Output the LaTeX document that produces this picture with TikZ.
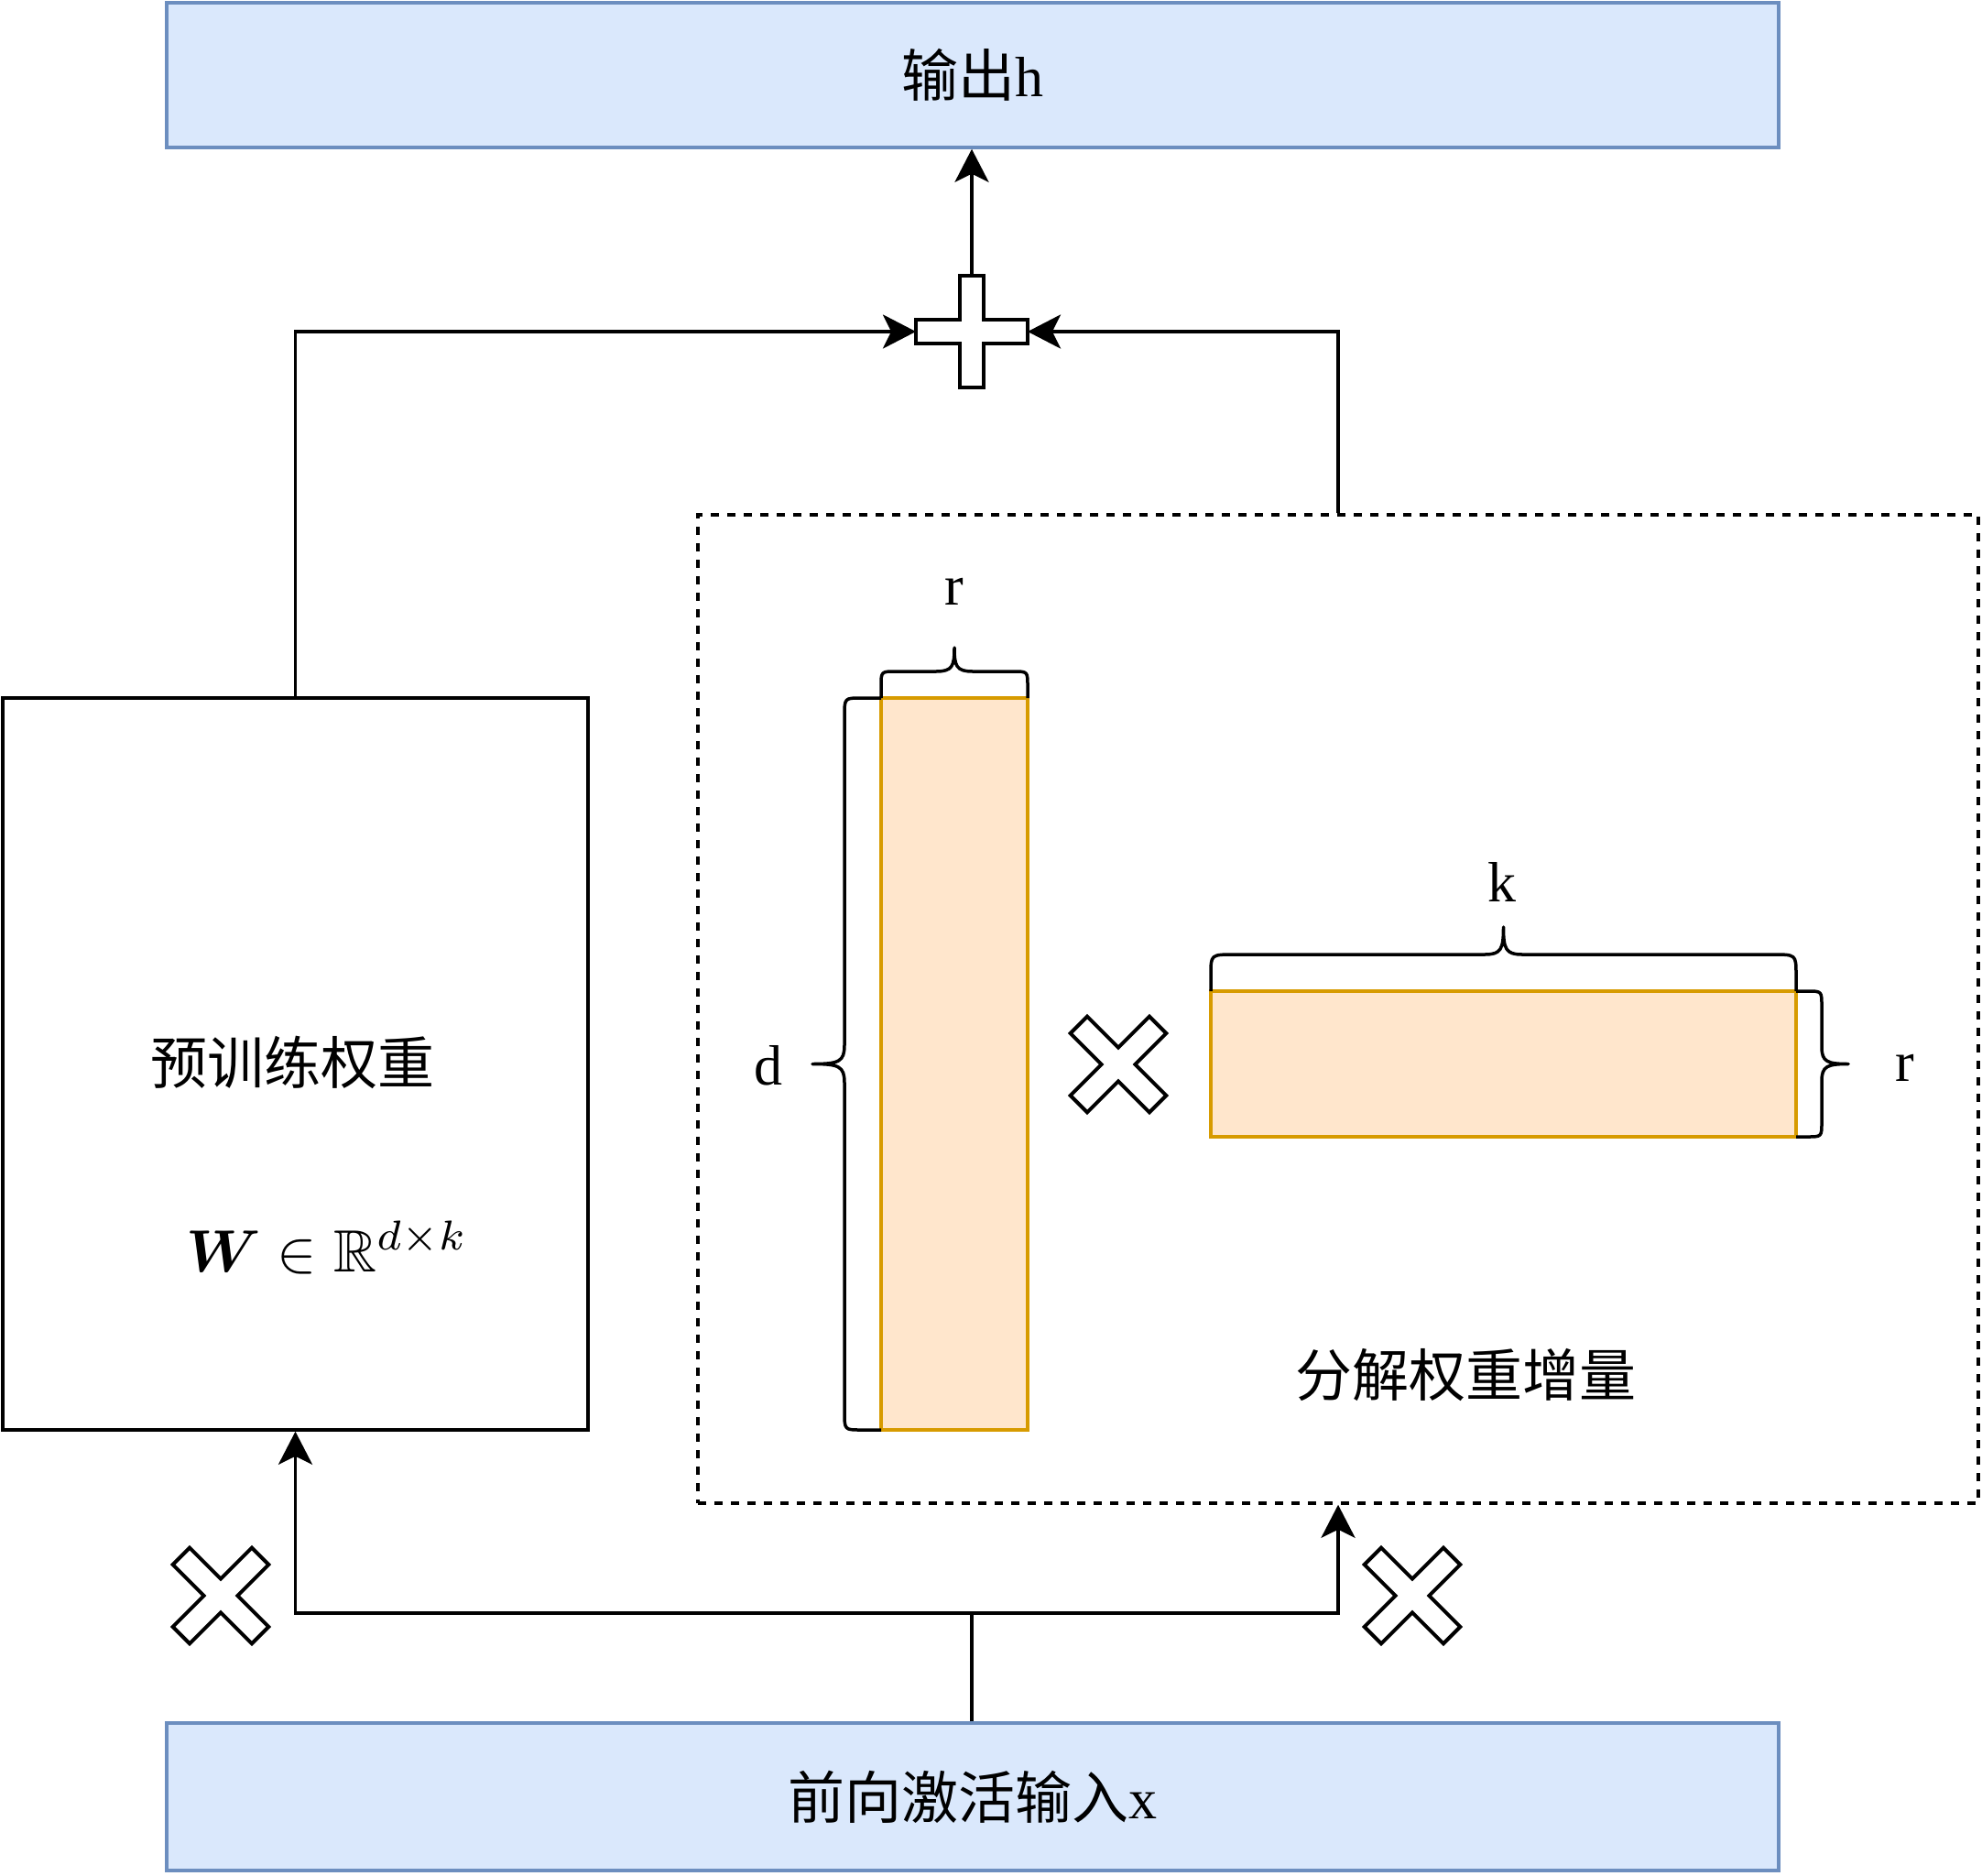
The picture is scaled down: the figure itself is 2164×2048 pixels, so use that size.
\documentclass[tikz,border=0pt]{standalone}
\usepackage{amsmath,amssymb}
\usepackage{fontspec}
\setmainfont{Liberation Serif}
\newfontfamily\cjk{Noto Sans CJK SC}
\usetikzlibrary{arrows.meta}
\definecolor{bfill}{HTML}{DAE8FC}
\definecolor{bline}{HTML}{6C8EBF}
\definecolor{ofill}{HTML}{FFE6CC}
\definecolor{oline}{HTML}{D79B00}
\tikzset{
  bluebox/.style={draw=bline, fill=bfill, line width=3.5pt, inner sep=0pt, minimum width=1760pt, minimum height=158pt, font=\fontsize{62}{74}\selectfont},
  plainbox/.style={draw=black, line width=3.5pt, inner sep=0pt},
  orangebox/.style={draw=oline, fill=ofill, line width=4pt, inner sep=0pt},
  lbl/.style={inner sep=0pt, font=\fontsize{62}{74}\selectfont},
  conn/.style={line width=3.5pt, -{Stealth[length=36pt,width=37pt,inset=9pt]}},
  bracestyle/.style={line width=3.5pt, line join=round},
  plusmark/.pic={
    \draw[line width=4pt, fill=white] (-13,-61) -- (13,-61) -- (13,-13) -- (61,-13) -- (61,13) -- (13,13) -- (13,61) -- (-13,61) -- (-13,13) -- (-61,13) -- (-61,-13) -- (-13,-13) -- cycle;
  }
}
\begin{document}
\begin{tikzpicture}[x=1pt,y=-1pt]
\useasboundingbox (0,0) rectangle (2164,2048);
% boxes
\node[bluebox] (out) at (1062,82) {{\cjk 输出}h};
\node[bluebox, minimum height=161pt] (in) at (1062,1961.5) {{\cjk 前向激活输入}x};
\node[plainbox, minimum width=639pt, minimum height=799pt] (W) at (322.5,1161.5) {};
\node[lbl] (wtitle) at (319,1160) {\cjk 预训练权重};
\node[inner sep=0pt] (wmath) at (357,1362) {\scalebox{6.5}{$\boldsymbol{W}\in\mathbb{R}^{d\times k}$}};
\node[draw, line width=3.5pt, dash pattern=on 9pt off 9pt, minimum width=1398pt, minimum height=1079pt, inner sep=0pt] (dash) at (1461,1101.5) {};
\node[orangebox, minimum width=160pt, minimum height=799pt] (A) at (1042,1161.5) {};
\node[orangebox, minimum width=639pt, minimum height=159pt] (B) at (1641.5,1161.5) {};
\node[lbl] (deltalab) at (1600,1501) {\cjk 分解权重增量};
% braces
\draw[bracestyle] (962,762) -- (962,749) .. controls (962,733) .. (978,733) -- (1022,733) .. controls (1040,733) and (1042,727) .. (1042,707) .. controls (1042,727) and (1044,733) .. (1062,733) -- (1106,733) .. controls (1122,733) .. (1122,749) -- (1122,762);
\draw[bracestyle] (962,762) -- (940,762) .. controls (922,762) .. (922,782) -- (922,1141) .. controls (922,1159) and (916,1161.5) .. (887,1161.5) .. controls (916,1161.5) and (922,1164) .. (922,1182) -- (922,1541) .. controls (922,1561) .. (940,1561) -- (962,1561);
\draw[bracestyle] (1322,1082) -- (1322,1064) .. controls (1322,1042) .. (1348,1042) -- (1621,1042) .. controls (1639,1042) and (1641.5,1036) .. (1641.5,1012) .. controls (1641.5,1036) and (1644,1042) .. (1662,1042) -- (1935,1042) .. controls (1961,1042) .. (1961,1064) -- (1961,1082);
\draw[bracestyle] (1961,1082) -- (1973,1082) .. controls (1989,1082) .. (1989,1098) -- (1989,1143) .. controls (1989,1159) and (1995,1161.5) .. (2018,1161.5) .. controls (1995,1161.5) and (1989,1164) .. (1989,1180) -- (1989,1225) .. controls (1989,1241) .. (1973,1241) -- (1961,1241);
\node[lbl] (rtop) at (1042,646) {r};
\node[lbl] (dleft) at (839,1163) {d};
\node[lbl] (ktop) at (1640,963) {k};
\node[lbl] (rright) at (2080,1166) {r};
% connectors
\coordinate (plusC) at (1061,362);
\coordinate (plusL) at (1000,362);
\coordinate (plusR) at (1122,362);
\coordinate (plusT) at (1061,301);
\coordinate (split) at (1061,1761);
\draw[conn] (W.north) |- (plusL);
\draw[conn] (dash.north) |- (plusR);
\draw[conn] (plusT) -- (plusT |- out.south);
\draw[line width=3.5pt] (split |- in.north) -- (split);
\draw[conn] (split) -| (W.south);
\draw[conn] (split) -| (dash.south);
% marks
\pic at (plusC) {plusmark};
\pic[rotate=45] at (1221,1162) {plusmark};
\pic[rotate=45] at (241,1742) {plusmark};
\pic[rotate=45] at (1542,1742) {plusmark};
\end{tikzpicture}
\end{document}
